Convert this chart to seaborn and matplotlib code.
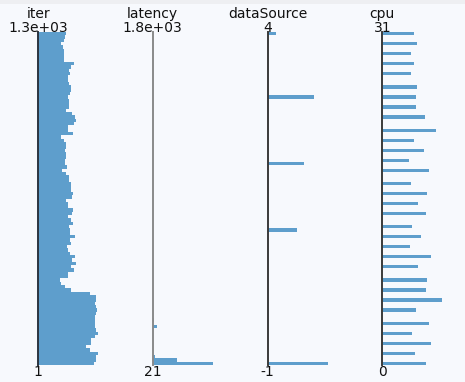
import numpy as np
import matplotlib
matplotlib.use("Agg")
import matplotlib.pyplot as plt
from matplotlib.patches import Rectangle
import seaborn as sns

sns.set_style("white")
plt.rcParams["font.family"] = ["DejaVu Sans"]

# %% column setup
columns = ["iter", "latency", "dataSource", "cpu"]
col_min = [1, 21, -1, 0]
col_max = [1300, 1800, 4, 31]
top_labels = ["1.3e+03", "1.8e+03", "4", "31"]
bottom_labels = ["1", "21", "-1", "0"]

# %% histogram values (relative bar length)
# iter: one value per bin, read from top (max) to bottom (min)
iter_counts_top_down = [
    28, 27, 26, 23, 25, 26, 26, 26, 26, 36,
    33, 31, 32, 30, 30, 31, 33, 33, 32, 30,
    31, 31, 31, 28, 34, 37, 38, 36, 30, 30,
    35, 23, 26, 28, 28, 27, 28, 28, 27, 27,
    29, 24, 28, 31, 31, 33, 33, 33, 35, 34,
    28, 30, 30, 35, 34, 30, 33, 35, 31, 32,
    32, 37, 32, 33, 29, 30, 32, 37, 34, 38,
    33, 36, 30, 30, 22, 23, 27, 33, 52, 58,
    58, 57, 58, 59, 58, 57, 57, 57, 57, 58,
    60, 57, 53, 53, 48, 52, 60, 58, 58, 56,
]

latency_values = [30, 45, 66, 190, 228, 260, 300, 340, 380, 420, 460]
latency_counts = [60, 24, 2.5, 0.7, 4, 1, 0.8, 0.8, 0.7, 0.7, 0.7]

source_values = [-1, 1, 2, 3, 4]
source_counts = [60, 29.7, 36, 46, 8]

cpu_values = [0, 1, 2, 3, 4, 5, 6, 7, 8, 9, 10, 11, 12, 13, 14, 15,
              16, 17, 18, 19, 20, 21, 22, 23, 24, 25, 26, 27, 28, 29, 30, 31]
cpu_counts = [43.3, 32.7, 48.3, 29.3, 46.3, 33.3, 59.7, 44, 44.7, 35.3,
              49, 28, 38.3, 29.7, 43.3, 35.7, 44.3, 28.3, 46.3, 26.3,
              41.7, 32, 53.7, 42.7, 33.3, 33.3, 34.3, 28.7, 31.7, 29, 35, 31.7]

n_bins = 100
iter_edges = np.linspace(col_min[0], col_max[0], n_bins + 1)
iter_centers = (iter_edges[:-1] + iter_edges[1:]) / 2
iter_counts = iter_counts_top_down[::-1]

data = [
    (iter_centers, iter_counts),
    (latency_values, latency_counts),
    (source_values, source_counts),
    (cpu_values, cpu_counts),
]

# %% layout (pixels)
W, H = 465, 382
axis_x = [38.3, 152.5, 267.7, 382.3]
axis_top, axis_bottom = 32, 365
hist_w = 75
bar_color = "#5e9ecc"
axis_colors = ["#2b3440", "#8a8a8a", "#3a3a3a", "#3a3a3a"]
bg = "#f7f9fd"

fig = plt.figure(figsize=(W / 100, H / 100), dpi=100, facecolor=bg)
# thin grey band along the top edge
fig.add_artist(Rectangle((0, 1 - 4 / H), 1, 4 / H, transform=fig.transFigure,
                         facecolor="#eeeff2", edgecolor="none"))

for i, name in enumerate(columns):
    ax = fig.add_axes([axis_x[i] / W, (H - axis_bottom) / H,
                       hist_w / W, (axis_bottom - axis_top) / H])
    ax.set_facecolor("none")
    vals, w = data[i]
    sns.histplot(y=vals, weights=w, bins=n_bins,
                 binrange=(col_min[i], col_max[i]), ax=ax,
                 color=bar_color, alpha=1, linewidth=0, element="bars")
    ax.set_xlim(0, hist_w)
    ax.set_ylim(col_min[i], col_max[i])
    ax.set_xlabel("")
    ax.set_ylabel("")
    ax.set_xticks([])
    ax.set_yticks([])
    for s in ["top", "right", "bottom"]:
        ax.spines[s].set_visible(False)
    ax.spines["left"].set_color(axis_colors[i])
    ax.spines["left"].set_linewidth(1.4)

    ax.annotate(name, xy=(0, 1), xycoords="axes fraction",
                xytext=(0, 10.3), textcoords="offset points",
                ha="center", va="baseline", fontsize=10, color="#111111")
    ax.annotate(top_labels[i], xy=(0, 1), xycoords="axes fraction",
                xytext=(0, 0.2), textcoords="offset points",
                ha="center", va="baseline", fontsize=10, color="#111111")
    ax.annotate(bottom_labels[i], xy=(0, 0), xycoords="axes fraction",
                xytext=(0, -8), textcoords="offset points",
                ha="center", va="baseline", fontsize=10, color="#111111")

fig.savefig("out.png", dpi=100, facecolor=bg)
